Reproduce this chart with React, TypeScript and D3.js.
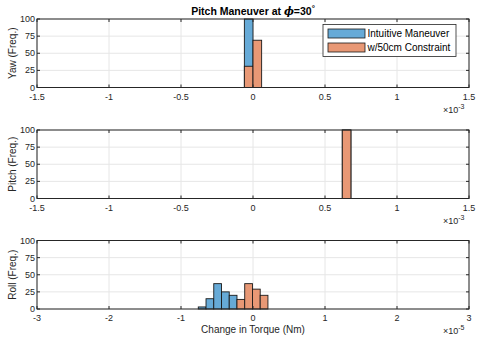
import React from "react";
import * as d3 from "d3";

// ---- data ----
const yawEdges = [-0.06e-3, 0, 0.06e-3];
const yawIntuitive = [100, 0];
const yawConstraint = [31, 69];

const pitchEdges = [0.62e-3, 0.68e-3];
const pitchIntuitive = [100];
const pitchConstraint = [100];

const rollBin = 0.1075e-5;
const rollIntuitiveStart = -0.76e-5;
const rollIntuitive = [3, 15, 37, 25, 20];
const rollConstraintStart = -0.2225e-5;
const rollConstraint = [14, 37, 29, 20];

const yTicks = [0, 25, 50, 75, 100];
const xTicksE3 = [-1.5, -1, -0.5, 0, 0.5, 1, 1.5];
const xTicksE5 = [-3, -2, -1, 0, 1, 2, 3];

const BLUE = "#66AAD7";
const ORANGE = "#E89875";
const AXIS = "#262626";
const FONT = "'Liberation Sans', Arial, sans-serif";

type Bar = { x0: number; x1: number; v: number };

function binsFromEdges(edges: number[], counts: number[]): Bar[] {
  return counts.map((v, i) => ({ x0: edges[i], x1: edges[i + 1], v }));
}
function binsFromStart(start: number, w: number, counts: number[]): Bar[] {
  return counts.map((v, i) => ({ x0: start + i * w, x1: start + (i + 1) * w, v }));
}

const L = 37, R = 469, H = 68.5;

function Panel({ top, domain, ticks, scaleExp, ylabel, blue, orange, xlabel }: any) {
  const x = d3.scaleLinear().domain(domain).range([L, R]);
  const y = d3.scaleLinear().domain([0, 100]).range([top + H, top]);
  const mult = scaleExp === -3 ? 1e-3 : 1e-5;
  return (
    <g fontFamily={FONT}>
      {ticks.map((t: number) => (
        <line key={"gx" + t} x1={x(t * mult)} x2={x(t * mult)} y1={top} y2={top + H} stroke="#e6e6e6" strokeWidth={1} />
      ))}
      {yTicks.map((t) => (
        <line key={"gy" + t} x1={L} x2={R} y1={y(t)} y2={y(t)} stroke="#e6e6e6" strokeWidth={1} />
      ))}
      {blue.filter((b: Bar) => b.v > 0).map((b: Bar, i: number) => (
        <rect key={"b" + i} x={x(b.x0)} y={y(b.v)} width={x(b.x1) - x(b.x0)} height={y(0) - y(b.v)} fill={BLUE} stroke="#1a1a1a" strokeWidth={0.9} />
      ))}
      {orange.filter((b: Bar) => b.v > 0).map((b: Bar, i: number) => (
        <rect key={"o" + i} x={x(b.x0)} y={y(b.v)} width={x(b.x1) - x(b.x0)} height={y(0) - y(b.v)} fill={ORANGE} stroke="#1a1a1a" strokeWidth={0.9} />
      ))}
      <rect x={L} y={top} width={R - L} height={H} fill="none" stroke={AXIS} strokeWidth={1} />
      {ticks.map((t: number) => (
        <g key={"tx" + t}>
          <line x1={x(t * mult)} x2={x(t * mult)} y1={top + H} y2={top + H - 3} stroke={AXIS} />
          <line x1={x(t * mult)} x2={x(t * mult)} y1={top} y2={top + 3} stroke={AXIS} />
          <text x={x(t * mult)} y={top + H + 12} textAnchor="middle" fontSize={9} fill={AXIS}>{String(t)}</text>
        </g>
      ))}
      {yTicks.map((t) => (
        <g key={"ty" + t}>
          <line x1={L} x2={L + 3} y1={y(t)} y2={y(t)} stroke={AXIS} />
          <line x1={R} x2={R - 3} y1={y(t)} y2={y(t)} stroke={AXIS} />
          <text x={L - 2} y={y(t) + 3} textAnchor="end" fontSize={9} fill={AXIS}>{String(t)}</text>
        </g>
      ))}
      <text transform={`translate(15.5,${top + H / 2}) rotate(-90)`} textAnchor="middle" fontSize={10} fill={AXIS}>{ylabel}</text>
      <text x={R - 26} y={top + H + 25} fontSize={9} fill={AXIS}>
        ×10<tspan dy={-4} fontSize={7}>{String(scaleExp)}</tspan>
      </text>
      {xlabel && (
        <text x={(L + R) / 2} y={top + H + 24} textAnchor="middle" fontSize={10} fill={AXIS}>{xlabel}</text>
      )}
    </g>
  );
}

export default function App() {
  return (
    <svg width={478} height={344} style={{ position: "absolute", left: 0, top: 0, background: "#fff" }}>
      <rect width={478} height={344} fill="#fff" />
      <Panel top={19} domain={[-1.5e-3, 1.5e-3]} ticks={xTicksE3} scaleExp={-3} ylabel="Yaw (Freq.)"
        blue={binsFromEdges(yawEdges, yawIntuitive)} orange={binsFromEdges(yawEdges, yawConstraint)} />
      <Panel top={130} domain={[-1.5e-3, 1.5e-3]} ticks={xTicksE3} scaleExp={-3} ylabel="Pitch (Freq.)"
        blue={binsFromEdges(pitchEdges, pitchIntuitive)} orange={binsFromEdges(pitchEdges, pitchConstraint)} />
      <Panel top={240.5} domain={[-3e-5, 3e-5]} ticks={xTicksE5} scaleExp={-5} ylabel="Roll (Freq.)"
        blue={binsFromStart(rollIntuitiveStart, rollBin, rollIntuitive)} orange={binsFromStart(rollConstraintStart, rollBin, rollConstraint)}
        xlabel="Change in Torque (Nm)" />
      <text x={253} y={15} textAnchor="middle" fontSize={10.5} fontWeight="bold" fontFamily={FONT} fill="#000">
        Pitch Maneuver at <tspan fontStyle="italic" fontFamily="'DejaVu Serif', serif">ϕ</tspan>=30<tspan dy={-4} fontSize={8}>°</tspan>
      </text>
      <g fontFamily={FONT}>
        <rect x={323} y={24.5} width={133} height={32} fill="#fff" stroke={AXIS} strokeWidth={0.8} />
        <rect x={328} y={29} width={37} height={9} fill={BLUE} stroke="#1a1a1a" strokeWidth={0.8} />
        <text x={367.5} y={37} fontSize={10} fill="#000">Intuitive Maneuver</text>
        <rect x={328} y={43} width={37} height={9} fill={ORANGE} stroke="#1a1a1a" strokeWidth={0.8} />
        <text x={367.5} y={51} fontSize={10} fill="#000">w/50cm Constraint</text>
      </g>
    </svg>
  );
}
